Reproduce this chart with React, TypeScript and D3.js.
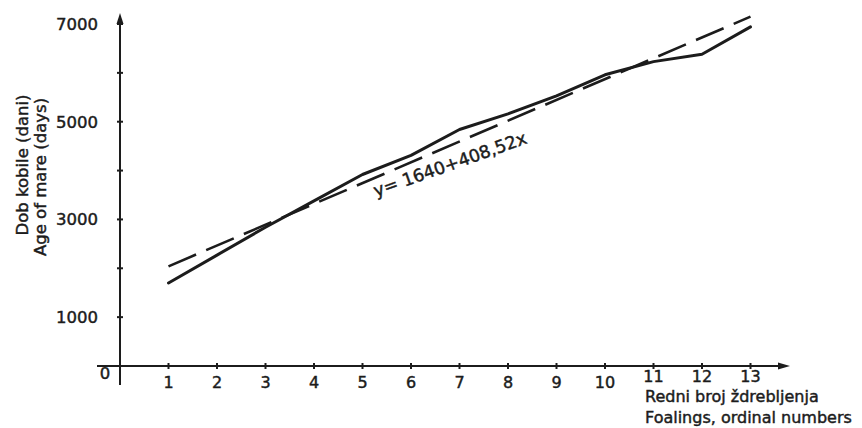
import React, { useEffect } from "react";
import * as d3 from "d3";

// foaling ordinal numbers and mare age in days
const foalings = [1, 2, 3, 4, 5, 6, 7, 8, 9, 10, 11, 12, 13];
const ageDays = [1700, 2270, 2840, 3380, 3920, 4310, 4840, 5160, 5530, 5960, 6230, 6380, 6940];
// regression y = 1640 + 408,52x as drawn (end points)
const trendX = [1, 13];
const trendY = [2040, 7150];
const yTicks = [1000, 2000, 3000, 4000, 5000, 6000, 7000];
const yTickLabels = ["1000", "3000", "5000", "7000"];

const W = 862;
const H = 428;
const ink = "#1c1c1c";

export default function App() {
  useEffect(() => {
    document.body.style.margin = "0";
  }, []);

  const x = d3.scaleLinear().domain([0, 13]).range([120, 750.5]);
  const y = d3.scaleLinear().domain([0, 7000]).range([366, 24]);

  const line = d3
    .line<number>()
    .x((d, i) => x(foalings[i]))
    .y((d) => y(d));

  const trend = d3
    .line<number>()
    .x((d, i) => x(trendX[i]))
    .y((d) => y(d));

  const font = "'DejaVu Sans', sans-serif";
  const txt = { fontFamily: font, fill: ink, stroke: ink, strokeWidth: 0.45 };

  const x0 = x(0);
  const yBase = y(0);
  const xEnd = 790;
  const yTop = 13;

  return (
    <svg width={W} height={H} style={{ display: "block", background: "#fff" }}>
      {/* axes */}
      <g stroke={ink} strokeWidth={2} fill="none">
        <line x1={x0} y1={385} x2={x0} y2={yTop + 4} />
        <line x1={97} y1={yBase} x2={xEnd - 6} y2={yBase} />
      </g>
      <path
        d={`M${x0},${yTop} L${x0 - 3.5},${yTop + 11} L${x0 + 3.5},${yTop + 11} Z`}
        fill={ink}
      />
      <path
        d={`M${xEnd},${yBase} L${xEnd - 12},${yBase - 3.5} L${xEnd - 12},${yBase + 3.5} Z`}
        fill={ink}
      />

      {/* y ticks */}
      {yTicks.map((t) => (
        <line key={t} x1={x0 - 3} x2={x0 + 3} y1={y(t)} y2={y(t)} stroke={ink} strokeWidth={2} />
      ))}
      {yTickLabels.map((t) => (
        <text key={t} x={98} y={y(+t)} dy="0.36em" textAnchor="end" fontSize={16.5} {...txt}>
          {t}
        </text>
      ))}
      <text x={105} y={379} textAnchor="middle" fontSize={16.5} {...txt}>
        0
      </text>

      {/* x ticks */}
      {foalings.map((f) => (
        <g key={f}>
          <line x1={x(f)} x2={x(f)} y1={yBase - 3} y2={yBase + 3} stroke={ink} strokeWidth={2} />
          <text x={x(f)} y={f > 10 ? 382 : 388} textAnchor="middle" fontSize={16} {...txt}>
            {f}
          </text>
        </g>
      ))}

      {/* axis titles */}
      <text transform="translate(28,165) rotate(-90)" textAnchor="middle" fontSize={16.5} {...txt}>
        Dob kobile (dani)
      </text>
      <text transform="translate(46,177) rotate(-90)" textAnchor="middle" fontSize={16.5} {...txt}>
        Age of mare (days)
      </text>
      <text x={645} y={402} fontSize={16} {...txt}>
        Redni broj ždrebljenja
      </text>
      <text x={645} y={423} fontSize={16} {...txt}>
        Foalings, ordinal numbers
      </text>

      {/* regression line */}
      <path
        d={trend(trendY) || ""}
        fill="none"
        stroke={ink}
        strokeWidth={2.6}
        strokeDasharray="30 11"
      />
      <text transform="translate(376,197) rotate(-19.5)" fontSize={17.5} {...txt}>
        y= 1640+408,52x
      </text>

      {/* observed ages */}
      <path
        d={line(ageDays) || ""}
        fill="none"
        stroke={ink}
        strokeWidth={3}
        strokeLinejoin="round"
        strokeLinecap="round"
      />
    </svg>
  );
}
